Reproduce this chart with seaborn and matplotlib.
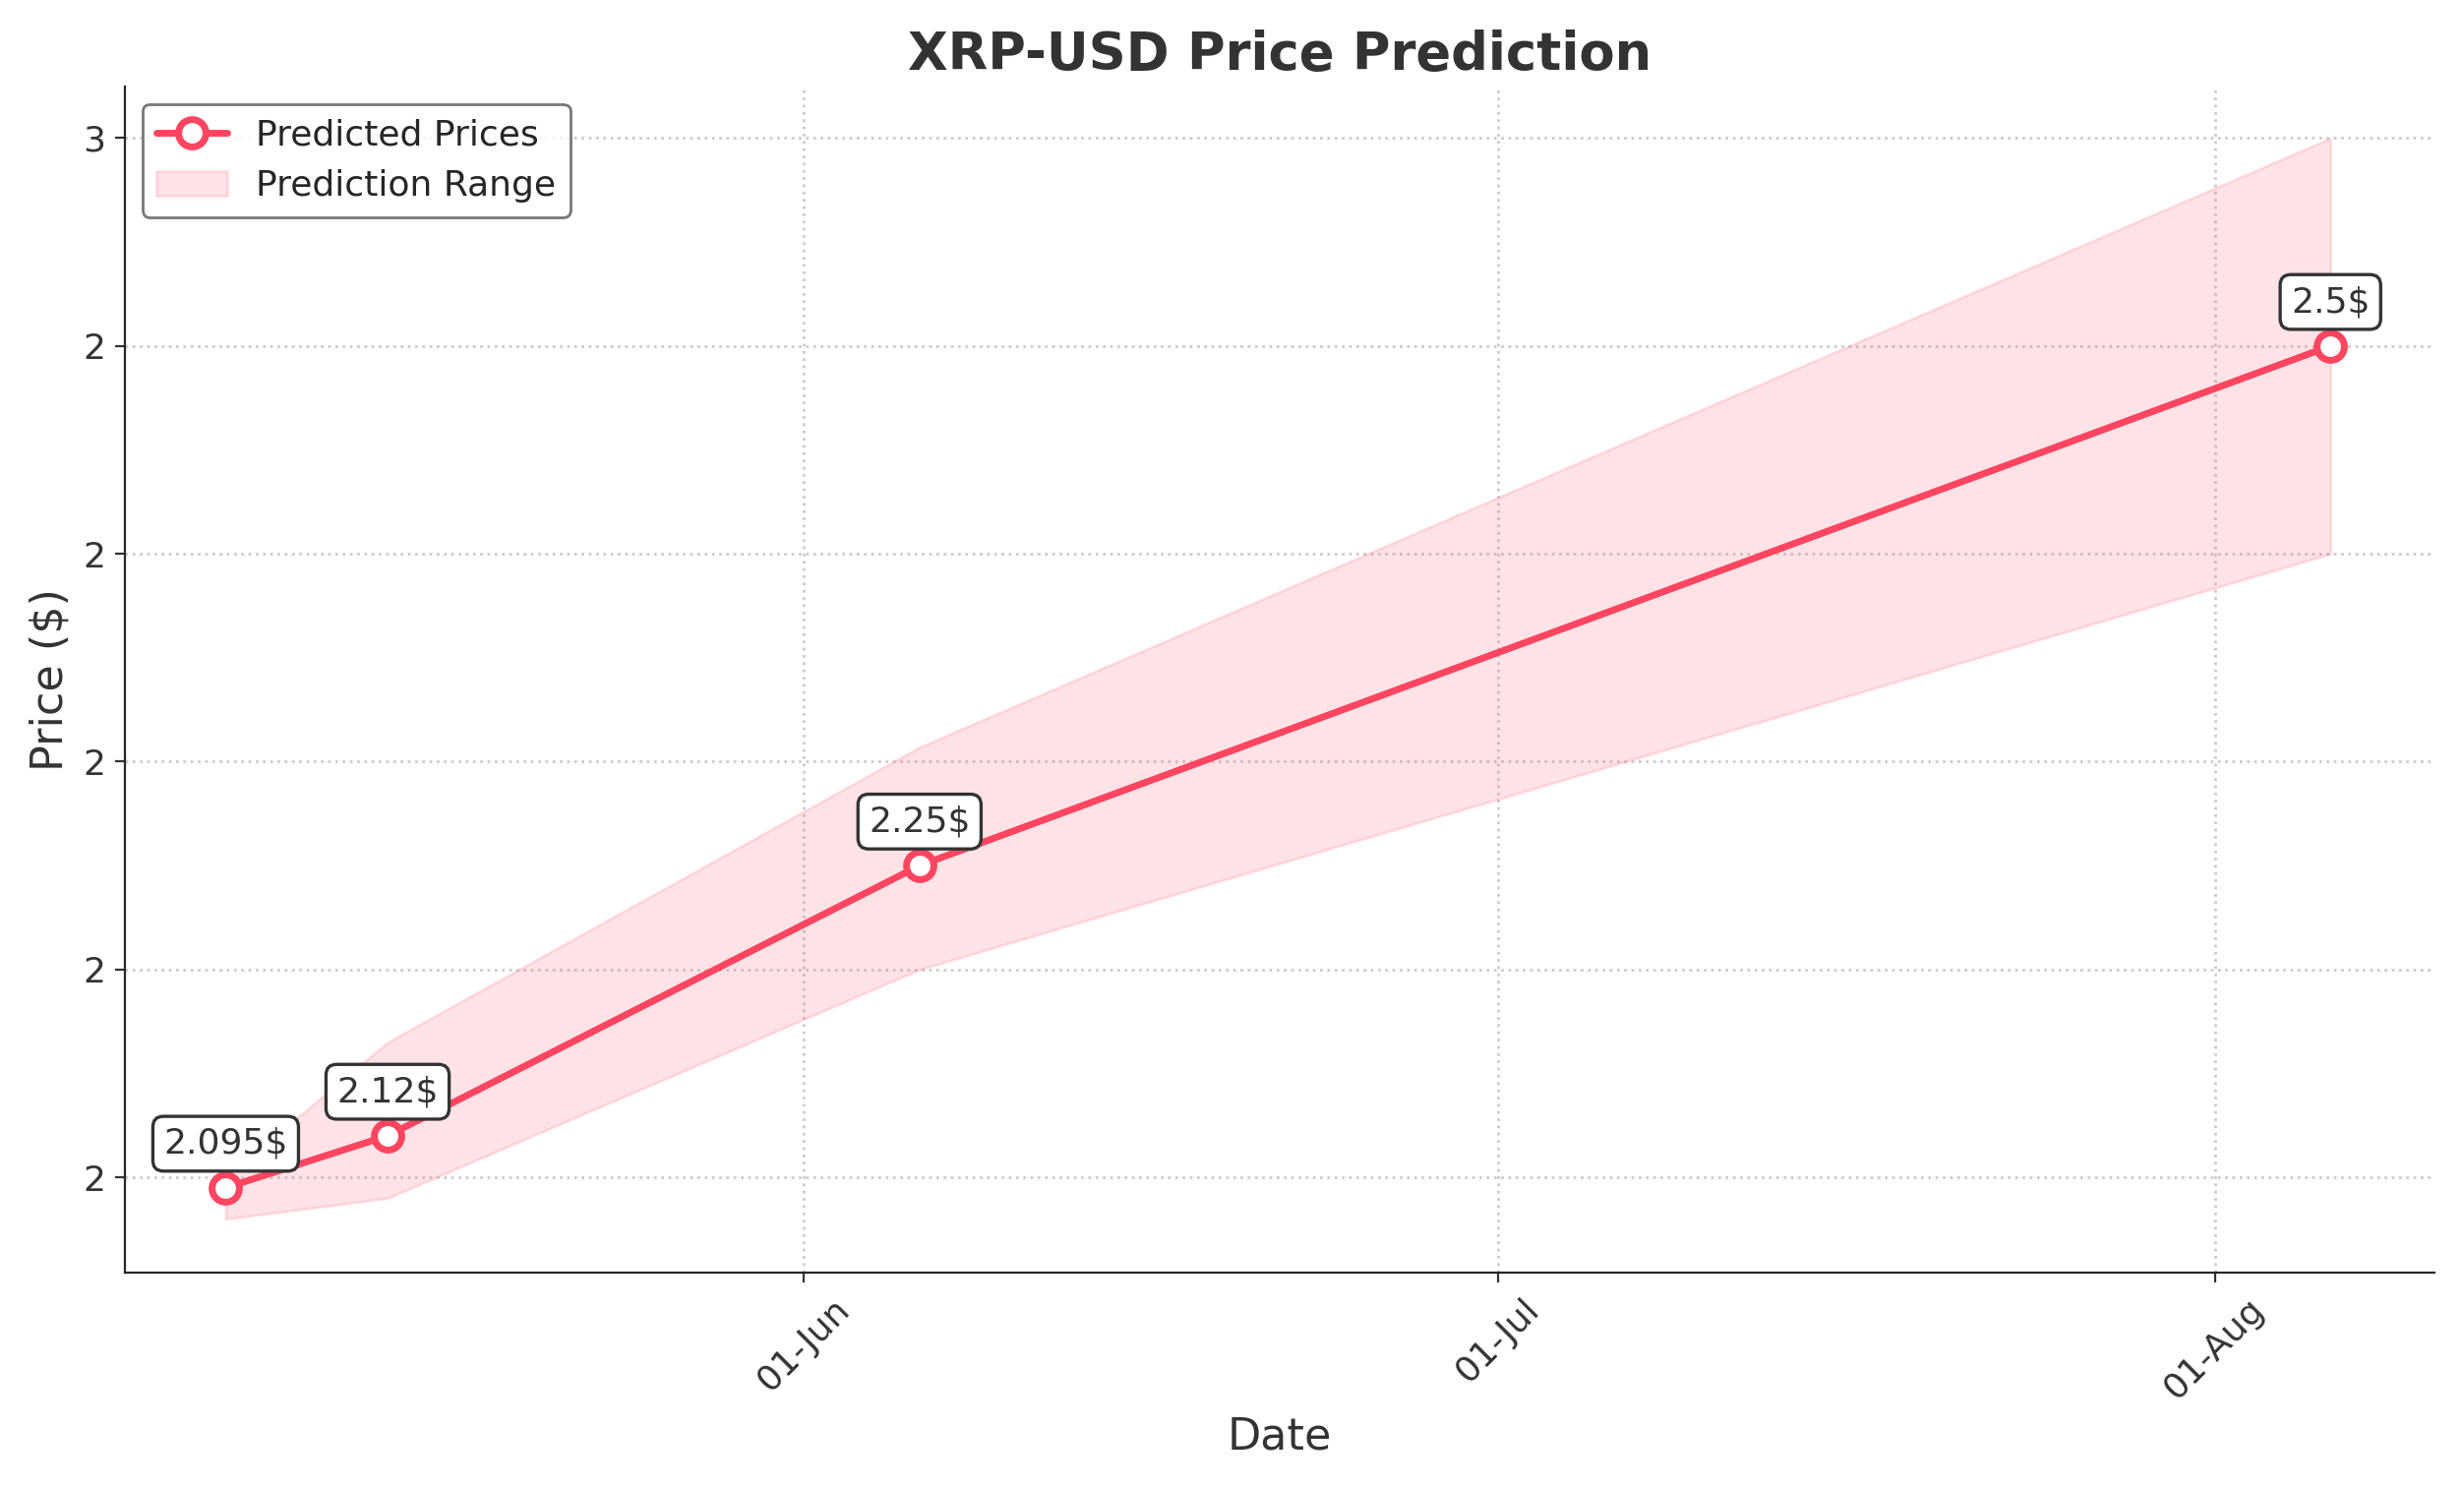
import pandas as pd
import matplotlib.pyplot as plt
import matplotlib.dates as mdates
import matplotlib.ticker as mticker
import seaborn as sns

dates = ["2025-05-07", "2025-05-14", "2025-06-06", "2025-08-06"]
predicted = [2.095, 2.12, 2.25, 2.5]
lower = [2.08, 2.09, 2.20, 2.40]
upper = [2.10, 2.165, 2.307, 2.60]
labels = ["2.095$", "2.12$", "2.25$", "2.5$"]

df = pd.DataFrame({"Date": pd.to_datetime(dates), "Price": predicted,
                   "Low": lower, "High": upper})

sns.set_style("ticks")
col = "#FF4560"
fig, ax = plt.subplots(figsize=(12.525, 7.565), dpi=200)

ax.fill_between(df["Date"], df["Low"], df["High"], color=col, alpha=0.15,
                label="Prediction Range")
sns.lineplot(data=df, x="Date", y="Price", ax=ax, color=col, linewidth=2.5,
             marker="o", markersize=10, markerfacecolor="white",
             markeredgecolor=col, markeredgewidth=2.5, label="Predicted Prices")

for d, p, t in zip(df["Date"], df["Price"], labels):
    ax.annotate(t, (d, p), xytext=(0, 10), textcoords="offset points",
                ha="center", va="bottom", fontsize=13, color="#333333",
                bbox=dict(boxstyle="round,pad=0.3", fc="white", ec="#333333", lw=1.2))

ax.set_xlim(pd.Timestamp("2025-05-02 15:00"), pd.Timestamp("2025-08-10 12:00"))
ax.set_ylim(2.054, 2.625)
ax.yaxis.set_major_locator(mticker.MultipleLocator(0.1))
ax.yaxis.set_major_formatter(mticker.FormatStrFormatter("%.0f"))
ax.xaxis.set_major_locator(mdates.MonthLocator())
ax.xaxis.set_major_formatter(mdates.DateFormatter("%d-%b"))
plt.setp(ax.get_xticklabels(), rotation=45)
ax.tick_params(labelsize=13, colors="#333333")

ax.grid(True, linestyle=":", color="#cccccc", linewidth=1)
sns.despine(ax=ax)
ax.set_title("XRP-USD Price Prediction", fontsize=19, fontweight="bold", color="#333333")
ax.set_xlabel("Date", fontsize=16, color="#333333")
ax.set_ylabel("Price ($)", fontsize=16, color="#333333")

handles, labs = ax.get_legend_handles_labels()
order = [labs.index("Predicted Prices"), labs.index("Prediction Range")]
ax.legend([handles[i] for i in order], [labs[i] for i in order],
          loc="upper left", fontsize=13, frameon=True, edgecolor="#555555")

plt.tight_layout()
plt.savefig("out.png", dpi=200)
